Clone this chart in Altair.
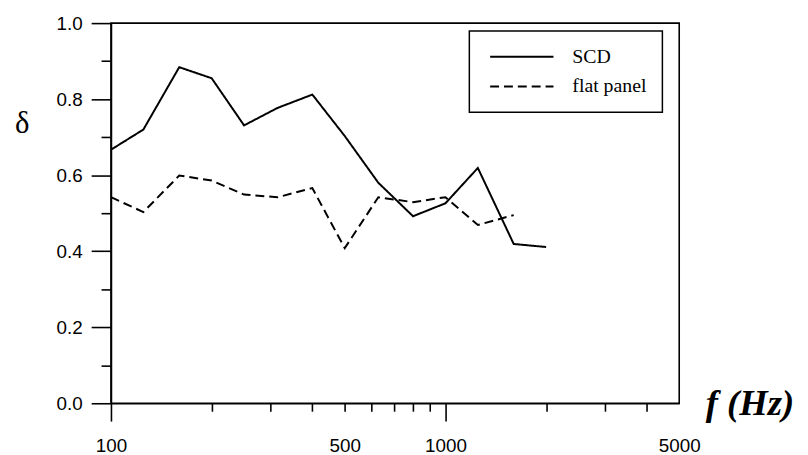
import altair as alt
import pandas as pd

# --- data ---
freqs = [100, 125, 160, 200, 250, 315, 400, 500, 630, 800, 1000, 1250, 1600, 2000]
scd = [0.667, 0.720, 0.884, 0.855, 0.731, 0.777, 0.812, 0.703, 0.580, 0.492, 0.526, 0.619, 0.419, 0.411]
flat_freqs = [100, 125, 160, 200, 250, 315, 400, 500, 630, 800, 1000, 1250, 1600]
flat = [0.542, 0.503, 0.599, 0.586, 0.549, 0.542, 0.566, 0.408, 0.542, 0.529, 0.542, 0.469, 0.495]
series_names = ["SCD", "flat panel"]

x_tick_values = [100, 200, 300, 400, 500, 600, 700, 800, 900, 1000, 2000, 3000, 4000, 5000]
x_label_values = [100, 500, 1000, 5000]
y_tick_values = [0.0, 0.1, 0.2, 0.3, 0.4, 0.5, 0.6, 0.7, 0.8, 0.9, 1.0]

rows = [{"f": f, "delta": v, "series": series_names[0]} for f, v in zip(freqs, scd)]
rows += [{"f": f, "delta": v, "series": series_names[1]} for f, v in zip(flat_freqs, flat)]
df = pd.DataFrame(rows)

x_major = "datum.value == 100 || datum.value == 1000"
x_end = "datum.value == 5000"
y_major = "abs(datum.value * 10 - 2 * round(datum.value * 5)) < 0.01"

x_axis = alt.Axis(
    values=x_tick_values,
    labelExpr="indexof(" + str(x_label_values) + ", datum.value) >= 0 ? format(datum.value, 'd') : ''",
    tickSize={"condition": [{"test": x_major, "value": 18}, {"test": x_end, "value": 0}], "value": 8},
    labelPadding={"condition": [{"test": x_major, "value": 16}, {"test": x_end, "value": 34}], "value": 26},
    labelFont="Liberation Sans",
    labelFontSize=19,
    labelColor="black",
    labelFlush=False,
    labelOverlap=False,
    grid=False,
    title="f (Hz)",
    titleFont="Liberation Serif",
    titleFontSize=37,
    titleFontWeight="bold",
    titleFontStyle="italic",
    titleAngle=0,
    titleAlign="center",
    titleBaseline="alphabetic",
    titleX=645,
    titleY=11,
    titleColor="black",
)

y_axis = alt.Axis(
    values=y_tick_values,
    labelExpr=y_major + " ? format(datum.value, '.1f') : ''",
    tickSize={"condition": {"test": y_major, "value": 20}, "value": 10},
    labelPadding=9,
    labelFont="Liberation Sans",
    labelFontSize=19,
    labelColor="black",
    labelFlush=False,
    labelOverlap=False,
    grid=False,
    title="δ",
    titleFont="Liberation Serif",
    titleFontSize=31,
    titleFontWeight="normal",
    titleAngle=0,
    titleAlign="center",
    titleBaseline="alphabetic",
    titleX=-90,
    titleY=110,
    titleColor="black",
)

chart = (
    alt.Chart(df)
    .mark_line(color="black", strokeWidth=2)
    .encode(
        x=alt.X("f:Q", scale=alt.Scale(type="log", domain=[100, 5000], nice=False), axis=x_axis),
        y=alt.Y("delta:Q", scale=alt.Scale(domain=[0, 1], nice=False), axis=y_axis),
        strokeDash=alt.StrokeDash(
            "series:N",
            scale=alt.Scale(domain=series_names, range=[[1, 0], [9, 5]]),
            legend=alt.Legend(
                title=None,
                orient="none",
                legendX=362,
                legendY=8,
                symbolType="M-0.625,0H7.375",
                symbolSize=256,
                symbolStrokeWidth=2,
                symbolStrokeColor="black",
                symbolFillColor="transparent",
                labelFont="Liberation Serif",
                labelFontSize=20,
                labelColor="black",
                labelOffset=68,
                rowPadding=10,
                padding=16,
                strokeColor="black",
            ),
        ),
    )
    .properties(
        width=574,
        height=384,
        autosize=alt.AutoSizeParams(type="none"),
        padding={"left": 104, "top": 13, "right": 122, "bottom": 50},
    )
    .configure_view(stroke="black", strokeWidth=1.6)
    .configure_axis(domainColor="black", domainWidth=1.6, tickColor="black", tickWidth=1.6)
    .configure_legend(strokeWidth=1.5)
)

chart.save("out.html", embed_options={"renderer": "svg", "actions": False})
